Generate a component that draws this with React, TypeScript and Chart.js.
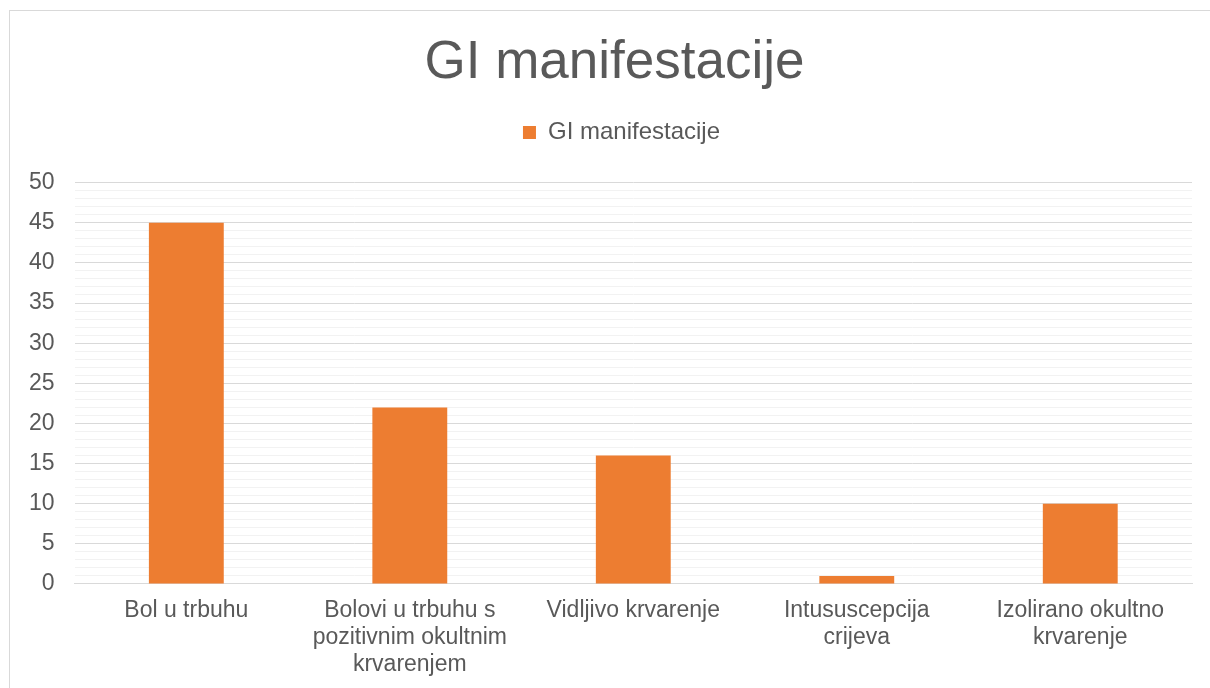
import React, { useEffect, useRef } from "react";
import { Chart, registerables } from "chart.js";

Chart.register(...registerables);

const categories: (string | string[])[] = [
  "Bol u trbuhu",
  ["Bolovi u trbuhu s", "pozitivnim okultnim", "krvarenjem"],
  "Vidljivo krvarenje",
  ["Intususcepcija", "crijeva"],
  ["Izolirano okultno", "krvarenje"],
];
const seriesName = "GI manifestacije";
const seriesValues = [45, 22, 16, 1, 10];
const titleText = "GI manifestacije";

const FONT = "'Liberation Sans', Arial, sans-serif";
const TEXT = "#595959";

const blockTweaks = {
  id: "blockTweaks",
  beforeInit(chart: any) {
    const orig = chart.legend.fit;
    chart.legend.fit = function () {
      orig.call(this);
      this.height += 28;
    };
    const legDraw = chart.legend.draw;
    chart.legend.draw = function () {
      const ctx = chart.ctx;
      ctx.save();
      ctx.translate(21, 0);
      legDraw.call(this);
      ctx.restore();
    };
  },
  afterInit(chart: any) {
    const tb = chart.titleBlock;
    if (tb) {
      const d = tb.draw;
      tb.draw = function () {
        const ctx = chart.ctx;
        ctx.save();
        ctx.translate(14, 0);
        d.call(this);
        ctx.restore();
      };
    }
  },
};

export default function App() {
  const ref = useRef<HTMLCanvasElement>(null);
  useEffect(() => {
    if (!ref.current) return;
    const chart = new Chart(ref.current, {
      type: "bar",
      data: {
        labels: categories,
        datasets: [
          {
            label: seriesName,
            data: seriesValues,
            backgroundColor: "#ED7D31",
            barPercentage: 0.335,
            categoryPercentage: 1,
          },
        ],
      },
      plugins: [blockTweaks],
      options: {
        animation: false,
        responsive: false,
        layout: { padding: { left: 9, right: 18, top: 0, bottom: 11 } },
        plugins: {
          tooltip: { enabled: false },
          title: {
            display: true,
            text: titleText,
            color: TEXT,
            font: { family: FONT, size: 53, weight: "normal", lineHeight: 1.2 },
            padding: { top: 32, bottom: 15 },
          },
          legend: {
            display: true,
            labels: {
              color: TEXT,
              font: { family: FONT, size: 24 },
              boxWidth: 13,
              boxHeight: 13,
              padding: 10,
            },
          },
        },
        scales: {
          x: {
            grid: { display: false, drawTicks: false },
            border: { display: true, color: "#d9d9d9", width: 1 },
            ticks: {
              color: TEXT,
              font: { family: FONT, size: 23, lineHeight: 1.174 },
              padding: 13,
              maxRotation: 0,
              autoSkip: false,
            },
          },
          y: {
            min: 0,
            max: 50,
            border: { display: false },
            grid: {
              drawTicks: false,
              color: (ctx: any) =>
                ctx.tick && ctx.tick.value % 5 === 0 ? "#d9d9d9" : "#f2f2f2",
              lineWidth: 1,
            },
            ticks: {
              stepSize: 1,
              autoSkip: false,
              color: TEXT,
              font: { family: FONT, size: 23 },
              padding: 20,
              callback: (v: any) => (Number(v) % 5 === 0 ? String(v) : ""),
            },
          },
        },
      },
    });
    return () => chart.destroy();
  }, []);

  return (
    <div style={{ position: "fixed", left: 0, top: 0, width: 1210, height: 688, overflow: "hidden", background: "#fff" }}>
      <div
        style={{
          position: "absolute",
          left: 9,
          top: 10,
          width: 1300,
          height: 800,
          border: "1px solid #d9d9d9",
        }}
      />
      <canvas
        ref={ref}
        width={1210}
        height={702}
        style={{ position: "absolute", left: 0, top: 0, width: 1210, height: 702 }}
      />
    </div>
  );
}
